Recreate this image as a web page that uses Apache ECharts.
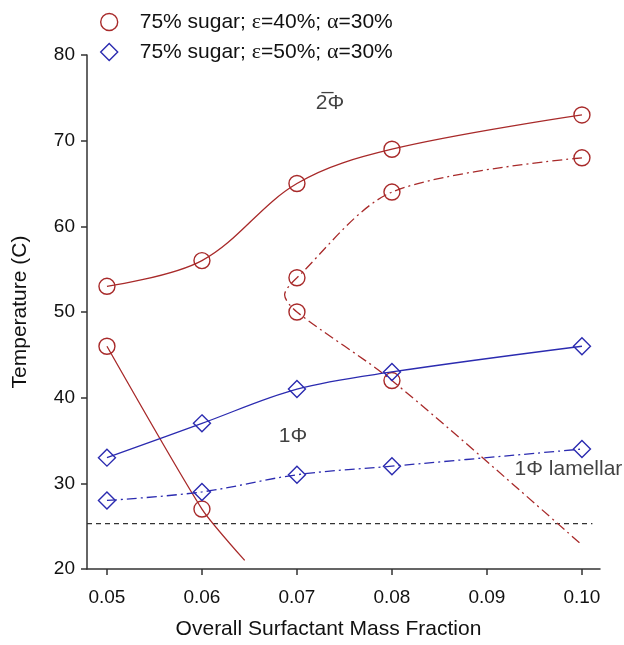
<!DOCTYPE html>
<html>
<head>
<meta charset="utf-8">
<script src="https://cdn.jsdelivr.net/npm/echarts@6/dist/echarts.min.js"></script>
<style>
  html, body { margin: 0; padding: 0; background: #fff; }
  #chart { width: 624px; height: 645px; }
</style>
</head>
<body>
<div id="chart"></div>
<script>
// data
const xTicks = [0.05, 0.06, 0.07, 0.08, 0.09, 0.10];
const yTicks = [20, 30, 40, 50, 60, 70, 80];

const redUpperX = [0.05, 0.06, 0.07, 0.08, 0.10];
const redUpperY = [53, 56, 65, 69, 73];
// dash-dot branch; the 0.0687 vertex is the curve's left turn, the last point is the line end
const redBranchX = [0.10, 0.08, 0.07, 0.0687, 0.07, 0.08, 0.10];
const redBranchY = [68, 64, 54, 52, 50, 42, 22.8];
const redBranchBare = [false, false, false, true, false, false, true];
// lower solid branch, last point is the line end (no marker)
const redLowerX = [0.05, 0.06, 0.0645];
const redLowerY = [46, 27, 21];
const redLowerBare = [false, false, true];

const blueX = [0.05, 0.06, 0.07, 0.08, 0.10];
const blueUpperY = [33, 37, 41, 43, 46];
const blueLowerY = [28, 29, 31, 32, 34];

const refLineX = [0.0479, 0.1011];
const refLineY = [25.3, 25.3];

const names = ['75% sugar; ε=40%; α=30%', '75% sugar; ε=50%; α=30%'];

const red = '#a82a2a';
const blue = '#2b2bb0';
const dashDot = [10, 4, 2, 4];

function pts(xs, ys, bare) {
  return xs.map((x, i) => {
    const item = { value: [x, ys[i]] };
    if (bare && bare[i]) item.symbol = 'none';
    return item;
  });
}

function curve(name, xs, ys, color, symbol, dash, bare, smooth) {
  return {
    name: name,
    type: 'line',
    smooth: smooth,
    symbol: symbol,
    symbolSize: symbol === 'diamond' ? 17 : 16,
    data: pts(xs, ys, bare),
    lineStyle: { color: color, width: 1.3, type: dash },
    itemStyle: { color: 'rgba(0,0,0,0)', borderColor: color, borderWidth: 1.4 },
    emphasis: { disabled: true },
    z: symbol === 'diamond' ? 4 : 3
  };
}

var myChart = echarts.init(document.getElementById('chart'));
var font = 'Liberation Sans, Arial, sans-serif';

var option = {
  animation: false,
  textStyle: { fontFamily: font },
  grid: { left: 87, right: 24, top: 55, bottom: 75 },
  legend: {
    orient: 'vertical',
    left: 95,
    top: 6,
    itemWidth: 17,
    itemHeight: 17,
    itemGap: 8,
    selectedMode: false,
    formatter: function (n) {
      return '{p|}' + n.replace('ε', '{g|ε}').replace('α', '{g|α}');
    },
    textStyle: {
      fontSize: 21,
      color: '#111',
      fontFamily: font,
      rich: {
        p: { width: 17 },
        g: { fontSize: 22, fontFamily: 'Liberation Serif, serif', color: '#111' }
      }
    },
    data: [
      { name: names[0], icon: 'circle', itemStyle: { color: 'rgba(0,0,0,0)', borderColor: red, borderWidth: 1.4 } },
      { name: names[1], icon: 'diamond', itemStyle: { color: 'rgba(0,0,0,0)', borderColor: blue, borderWidth: 1.4 } }
    ]
  },
  xAxis: {
    type: 'value',
    min: 0.0479,
    max: 0.1019,
    name: 'Overall Surfactant Mass Fraction',
    nameLocation: 'middle',
    nameGap: 50,
    nameTextStyle: { fontSize: 21, color: '#111', padding: [0, 30, 0, 0] },
    axisLine: { lineStyle: { color: '#333', width: 1.5 } },
    axisTick: { customValues: xTicks, length: 6, lineStyle: { color: '#333', width: 1.5 } },
    axisLabel: {
      customValues: xTicks,
      fontSize: 19,
      color: '#111',
      margin: 19,
      formatter: function (v) { return v.toFixed(2); }
    },
    splitLine: { show: false }
  },
  yAxis: {
    type: 'value',
    min: 20,
    max: 80,
    interval: 10,
    name: 'Temperature (C)',
    nameLocation: 'middle',
    nameGap: 56,
    nameTextStyle: { fontSize: 21, color: '#111' },
    axisLine: { show: true, lineStyle: { color: '#333', width: 1.5 } },
    axisTick: { show: true, length: 6, lineStyle: { color: '#333', width: 1.5 } },
    axisLabel: { fontSize: 19, color: '#111', margin: 12 },
    splitLine: { show: false }
  },
  series: [
    curve(names[0], redUpperX, redUpperY, red, 'circle', 'solid', null, 0.35),
    curve(names[0], redBranchX, redBranchY, red, 'circle', dashDot, redBranchBare, 0.3),
    curve(names[0], redLowerX, redLowerY, red, 'circle', 'solid', redLowerBare, 0.2),
    curve(names[1], blueX, blueUpperY, blue, 'diamond', 'solid', null, 0.35),
    curve(names[1], blueX, blueLowerY, blue, 'diamond', dashDot, null, 0.35),
    {
      type: 'line',
      symbol: 'none',
      data: refLineX.map((x, i) => [x, refLineY[i]]),
      lineStyle: { color: '#333', width: 1.2, type: [5, 4] },
      emphasis: { disabled: true },
      z: 2
    },
    {
      type: 'scatter',
      symbolSize: 0,
      silent: true,
      data: [
        { value: [0.07347, 74.4], name: '2\u0305Φ' },
        { value: [0.06958, 35.5], name: '1Φ' },
        { value: [0.09858, 31.6], name: '1Φ lamellar' }
      ],
      label: {
        show: true,
        position: 'inside',
        formatter: '{b}',
        fontSize: 21,
        color: '#111',
        fontFamily: font
      },
      z: 5
    }
  ]
};
myChart.setOption(option);
</script>
</body>
</html>
